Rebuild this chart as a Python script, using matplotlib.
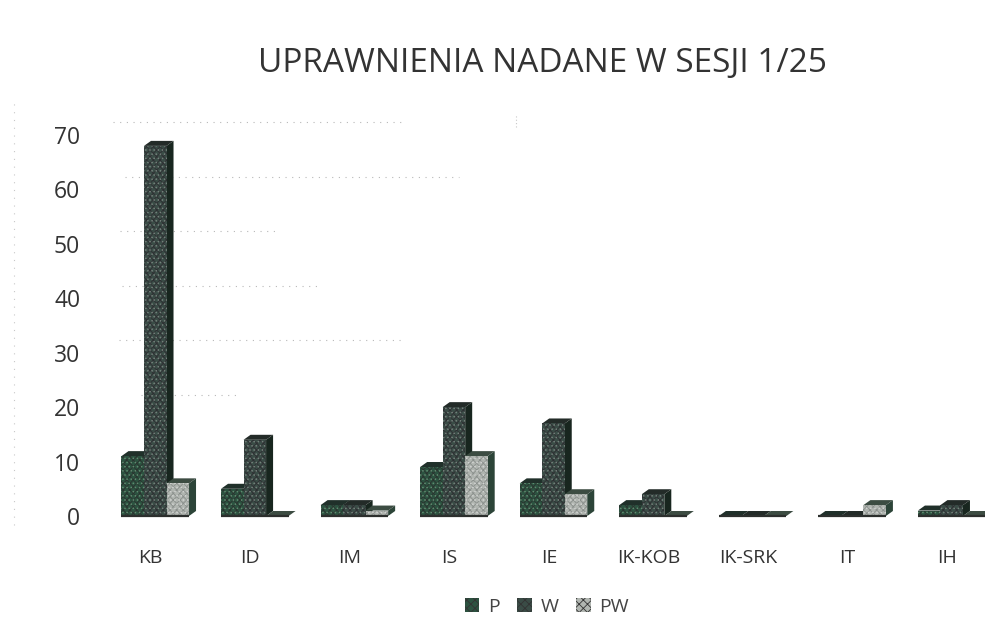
import matplotlib
matplotlib.use('Agg')
import matplotlib.pyplot as plt
from matplotlib.lines import Line2D
from matplotlib.patches import Patch

# Dados do grafico
kategorie = ['KB', 'ID', 'IM', 'IS', 'IE', 'IK-KOB', 'IK-SRK', 'IT', 'IH']
p = [11, 5, 2, 9, 6, 2, 0, 0, 1]
w = [68, 14, 2, 20, 17, 4, 0, 0, 2]
pw = [6, 0, 1, 11, 4, 0, 0, 2, 0]
serie_nazwy = ['P', 'W', 'PW']
y_ticks = [0, 10, 20, 30, 40, 50, 60, 70]

# Wyblakla siatka: wartosc, poczatek i koniec (w jednostkach kategorii)
siatka_y = [20, 30, 40, 50, 60, 70]
siatka_od = [-0.1, -0.32, -0.29, -0.31, -0.26, -0.38]
siatka_do = [0.9, 2.53, 1.7, 1.3, 3.1, 2.55]

kolory = ['#2c5240', '#3a4c46', '#b0b5b0']
kolory_bok = ['#14241c', '#18261f', '#2c4438']
kolory_gora = ['#20302a', '#232b28', '#3c4c42']
plamki_ciemne = ['#2a322e', '#2e2e32', '#8a8f8c']
plamki_jasne = ['#5f8a6f', '#73807a', '#d0d2d0']

plt.rcParams['font.family'] = ['Open Sans', 'DejaVu Sans']
plt.rcParams['hatch.linewidth'] = 0.6

W, H = 985, 618
fig = plt.figure(figsize=(W / 100, H / 100), dpi=100)
ax = fig.add_axes([101 / W, 1 - 516 / H, (997 - 101) / W, (516 - 135) / H])
ax.set_xlim(-0.5, 8.5)
ax.set_ylim(0, 70)

szer = 22.5 / 99.5
dx = 7 / 99.5
dy = 5 / 5.44
start = 0.045 - 1.5 * szer

for t, a, b in zip(siatka_y, siatka_od, siatka_do):
    ax.plot([a, b], [t + 2.3, t + 2.3], color='#b8b8b8', lw=0.8, ls=(0, (1, 5)), clip_on=False, zorder=1)

for k, serie in enumerate([p, w, pw]):
    for i, v in enumerate(serie):
        x0 = i + start + k * szer
        x1 = x0 + szer
        z = 2 + i + (1 - k) * 0.1 if k == 0 else 2 + i + k * 0.1
        # bok i gora slupka 3D
        ax.fill([x1, x1 + dx, x1 + dx, x1], [0, dy, v + dy, v], color=kolory_bok[k], lw=0, zorder=z)
        ax.fill([x0, x0 + dx, x1 + dx, x1], [v, v + dy, v + dy, v], color=kolory_gora[k], lw=0, zorder=z)
        ax.bar(x0, v, szer, align='edge', color=kolory[k], edgecolor=plamki_ciemne[k], hatch='xxxxx',
               lw=0, zorder=z + 0.01)
        ax.bar(x0, v, szer, align='edge', facecolor='none', edgecolor=plamki_jasne[k], hatch='....',
               lw=0, zorder=z + 0.02)
        # ciemna krawedz u podstawy
        ax.plot([x0, x1], [0, 0], color='#2c2f2d', lw=1.6, clip_on=False, solid_capstyle='butt', zorder=z + 0.03)

for s in ax.spines.values():
    s.set_visible(False)
ax.set_xticks(range(len(kategorie)))
ax.set_xticklabels(kategorie, fontsize=14, color='#333333')
ax.set_yticks(y_ticks)
ax.set_yticklabels(y_ticks, fontsize=16.5, color='#333333')
ax.tick_params(length=0)
ax.tick_params(axis='x', pad=24)
ax.tick_params(axis='y', pad=15)

# Slady skanowania
fig.add_artist(Line2D([14 / W, 14 / W], [1 - 525 / H, 1 - 100 / H], color='#c8c8c8', lw=0.8, ls=(0, (1, 6))))
fig.add_artist(Line2D([516 / W, 516 / W], [1 - 127 / H, 1 - 115 / H], color='#c8c8c8', lw=0.8, ls=(0, (1, 2))))

fig.text(543 / W, 1 - 63 / H, 'UPRAWNIENIA NADANE W SESJI 1/25', fontsize=24, color='#333333',
         ha='center', va='center')

uchwyty = [Patch(facecolor=c, edgecolor='#333333', hatch='xxxx', lw=0) for c in kolory]
fig.legend(uchwyty, serie_nazwy, ncol=3, loc='center', bbox_to_anchor=(547 / W, 1 - 607 / H), frameon=False,
           fontsize=14, labelcolor='#444444', handlelength=0.75, handleheight=0.75, handletextpad=0.45,
           columnspacing=0.9, borderpad=0)

fig.savefig('out.png', dpi=100)
